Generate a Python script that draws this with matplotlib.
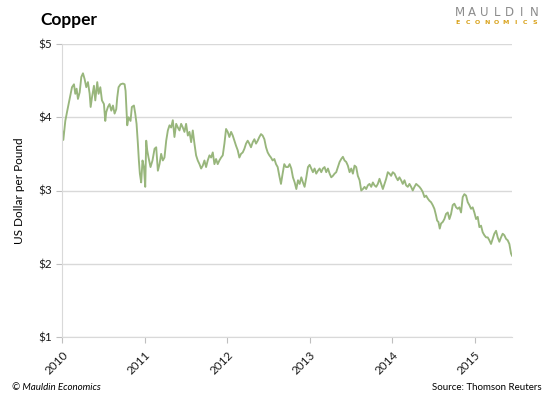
import matplotlib
matplotlib.use('agg')
import matplotlib.pyplot as plt
import numpy as np

plt.rcParams['font.family'] = ['Lato', 'DejaVu Sans']

years = [2010, 2011, 2012, 2013, 2014, 2015]
y_ticks = [1, 2, 3, 4, 5]

# copper price, US dollar per pound (dates as decimal years)
dates = [
    2010.000, 2010.016, 2010.040, 2010.064, 2010.093, 2010.121, 2010.145, 2010.161,
    2010.177, 2010.193, 2010.214, 2010.234, 2010.254, 2010.274, 2010.294, 2010.314,
    2010.335, 2010.347, 2010.363, 2010.387, 2010.403, 2010.427, 2010.443, 2010.464,
    2010.484, 2010.508, 2010.524, 2010.536, 2010.556, 2010.576, 2010.597, 2010.617,
    2010.637, 2010.657, 2010.669, 2010.685, 2010.709, 2010.738, 2010.758, 2010.770,
    2010.782, 2010.790, 2010.806, 2010.830, 2010.846, 2010.871, 2010.887, 2010.903,
    2010.919, 2010.931, 2010.943, 2010.959, 2010.975, 2010.992, 2011.008, 2011.020,
    2011.032, 2011.048, 2011.072, 2011.096, 2011.121, 2011.141, 2011.161, 2011.181,
    2011.201, 2011.221, 2011.241, 2011.262, 2011.282, 2011.302, 2011.322, 2011.342,
    2011.362, 2011.383, 2011.403, 2011.423, 2011.443, 2011.463, 2011.483, 2011.503,
    2011.524, 2011.544, 2011.564, 2011.584, 2011.604, 2011.624, 2011.644, 2011.665,
    2011.685, 2011.705, 2011.725, 2011.745, 2011.765, 2011.786, 2011.806, 2011.826,
    2011.846, 2011.866, 2011.886, 2011.906, 2011.927, 2011.947, 2011.967, 2011.987,
    2012.007, 2012.027, 2012.048, 2012.068, 2012.088, 2012.108, 2012.128, 2012.148,
    2012.168, 2012.189, 2012.209, 2012.229, 2012.249, 2012.269, 2012.289, 2012.310,
    2012.330, 2012.350, 2012.370, 2012.390, 2012.410, 2012.430, 2012.451, 2012.471,
    2012.491, 2012.511, 2012.531, 2012.551, 2012.572, 2012.592, 2012.612, 2012.632,
    2012.652, 2012.672, 2012.692, 2012.713,
    2012.737, 2012.757, 2012.777, 2012.797, 2012.818, 2012.838, 2012.858, 2012.878,
    2012.898, 2012.918, 2012.938, 2012.959, 2012.979, 2012.999, 2013.019, 2013.039,
    2013.059, 2013.079, 2013.100, 2013.120, 2013.140, 2013.160, 2013.180, 2013.200,
    2013.221, 2013.241, 2013.261, 2013.281, 2013.301, 2013.321, 2013.342, 2013.362,
    2013.382, 2013.402, 2013.422, 2013.442, 2013.462, 2013.483, 2013.503, 2013.523,
    2013.543, 2013.563, 2013.583, 2013.604, 2013.624, 2013.644, 2013.664, 2013.684,
    2013.704, 2013.724, 2013.745, 2013.765, 2013.785, 2013.805, 2013.825, 2013.845,
    2013.866, 2013.886, 2013.906, 2013.926, 2013.946, 2013.966, 2013.986, 2014.006,
    2014.027, 2014.047, 2014.067, 2014.087, 2014.107, 2014.127, 2014.148, 2014.168,
    2014.188, 2014.208, 2014.228, 2014.248, 2014.269, 2014.289, 2014.309, 2014.329,
    2014.349, 2014.369, 2014.390, 2014.410, 2014.430, 2014.450, 2014.470, 2014.490,
    2014.510, 2014.530, 2014.543, 2014.559, 2014.575, 2014.591, 2014.611, 2014.631,
    2014.651, 2014.672, 2014.692, 2014.712, 2014.732, 2014.752, 2014.773, 2014.793,
    2014.813, 2014.833, 2014.853, 2014.873, 2014.894, 2014.914, 2014.934, 2014.954,
    2014.974, 2014.994, 2015.015, 2015.035, 2015.055, 2015.075, 2015.095, 2015.115,
    2015.136, 2015.156, 2015.176, 2015.196, 2015.216, 2015.236, 2015.257, 2015.277,
    2015.297, 2015.317, 2015.337, 2015.357, 2015.378, 2015.398, 2015.418, 2015.438,
    2015.450,
]
prices = [
    3.84, 3.69, 3.95, 4.09, 4.25, 4.41, 4.45, 4.32,
    4.39, 4.25, 4.34, 4.55, 4.60, 4.52, 4.41, 4.48,
    4.32, 4.14, 4.27, 4.43, 4.23, 4.48, 4.32, 4.41,
    4.23, 4.18, 3.95, 4.07, 4.14, 4.18, 4.09, 4.16,
    4.05, 4.11, 4.27, 4.41, 4.45, 4.46, 4.45, 4.36,
    4.09, 3.89, 4.00, 3.95, 4.14, 4.16, 4.05, 3.91,
    3.64, 3.41, 3.23, 3.11, 3.41, 3.32, 3.05, 3.68,
    3.55, 3.45, 3.32, 3.41, 3.57, 3.59, 3.27, 3.36,
    3.50, 3.41, 3.45, 3.68, 3.82, 3.89, 3.86, 3.96,
    3.73, 3.91, 3.86, 3.82, 3.91, 3.86, 3.80, 3.91,
    3.75, 3.80, 3.66, 3.82, 3.64, 3.48, 3.41, 3.36,
    3.30, 3.34, 3.41, 3.32, 3.41, 3.48, 3.45, 3.52,
    3.36, 3.43, 3.36, 3.41, 3.45, 3.48, 3.64, 3.84,
    3.80, 3.73, 3.80, 3.75, 3.68, 3.61, 3.55, 3.45,
    3.50, 3.52, 3.57, 3.64, 3.68, 3.64, 3.59, 3.66,
    3.70, 3.64, 3.68, 3.73, 3.77, 3.75, 3.70, 3.59,
    3.52, 3.48, 3.45, 3.41, 3.43, 3.36, 3.32, 3.20,
    3.09, 3.23, 3.36, 3.32,
    3.32, 3.36, 3.30, 3.18, 3.11, 3.02, 3.14, 3.09,
    3.18, 3.11, 3.05, 3.18, 3.32, 3.35, 3.30, 3.25,
    3.30, 3.23, 3.27, 3.30, 3.25, 3.30, 3.32, 3.25,
    3.30, 3.23, 3.18, 3.20, 3.23, 3.25, 3.32, 3.39,
    3.43, 3.46, 3.41, 3.39, 3.34, 3.25, 3.30, 3.23,
    3.34, 3.32, 3.20, 3.14, 3.00, 3.02, 3.05, 3.02,
    3.07, 3.09, 3.05, 3.11, 3.07, 3.05, 3.09, 3.16,
    3.09, 3.02, 3.09, 3.16, 3.25, 3.23, 3.20, 3.25,
    3.23, 3.18, 3.14, 3.18, 3.14, 3.09, 3.14, 3.07,
    3.05, 3.09, 3.05, 3.00, 3.05, 3.09, 3.07, 3.05,
    3.02, 2.98, 2.91, 2.93, 2.89, 2.86, 2.84, 2.80,
    2.75, 2.66, 2.59, 2.57, 2.48, 2.55, 2.57, 2.61,
    2.68, 2.70, 2.61, 2.68, 2.80, 2.82, 2.77, 2.75,
    2.77, 2.70, 2.91, 2.95, 2.93, 2.84, 2.80, 2.75,
    2.77, 2.70, 2.61, 2.64, 2.50, 2.52, 2.43, 2.39,
    2.36, 2.36, 2.32, 2.27, 2.34, 2.41, 2.45, 2.36,
    2.30, 2.36, 2.41, 2.39, 2.34, 2.32, 2.27, 2.14,
    2.11,
]

fig = plt.figure(figsize=(5.5, 3.99), dpi=100)
ax = fig.add_axes([62/550, 1 - 337/399, 450/550, 293/399])

ax.plot(dates, prices, color='#98B67C', lw=1.35, solid_joinstyle='round')

ax.set_xlim(2010, 2015.45)
ax.set_ylim(1, 5)
ax.set_yticks(y_ticks)
ax.set_yticklabels([f'${v}' for v in y_ticks], fontsize=8.5)
ax.set_xticks(years)
ax.set_xticklabels([str(y) for y in years], fontsize=8.5, rotation=45,
                   ha='right', rotation_mode='anchor')
ax.grid(axis='y', color='#D9D9D9', lw=1)
ax.set_axisbelow(True)

for side in ['top', 'right']:
    ax.spines[side].set_visible(False)
for side in ['left', 'bottom']:
    ax.spines[side].set_color('#D9D9D9')
ax.tick_params(axis='both', color='#BFBFBF', length=4, labelcolor='#1A1A1A', pad=3)
ax.tick_params(axis='x', pad=5)

ax.set_ylabel('US Dollar per Pound', fontsize=8.5, labelpad=10)

fig.text(0.074, 0.95, 'Copper', fontsize=12.5, fontweight='bold', va='center')

# logo, letters spread out like the original
for i, ch in enumerate('MAULDIN'):
    fig.text((460 + i * 12.3) / 550, 1 - 13 / 399, ch, fontsize=8.5, color='#8C8C8C',
             ha='center', va='center', family='DejaVu Sans')
for i, ch in enumerate('ECONOMICS'):
    fig.text((458 + i * 9.6) / 550, 1 - 23 / 399, ch, fontsize=4.5, color='#D9A21B',
             ha='center', va='center', family='DejaVu Sans', fontweight='bold')

fig.text(12 / 550, 1 - 388 / 399, '© Mauldin Economics', fontsize=7, style='italic',
         va='center')
fig.text(542 / 550, 1 - 388 / 399, 'Source: Thomson Reuters', fontsize=7,
         ha='right', va='center')

fig.savefig('out.png', dpi=100)
